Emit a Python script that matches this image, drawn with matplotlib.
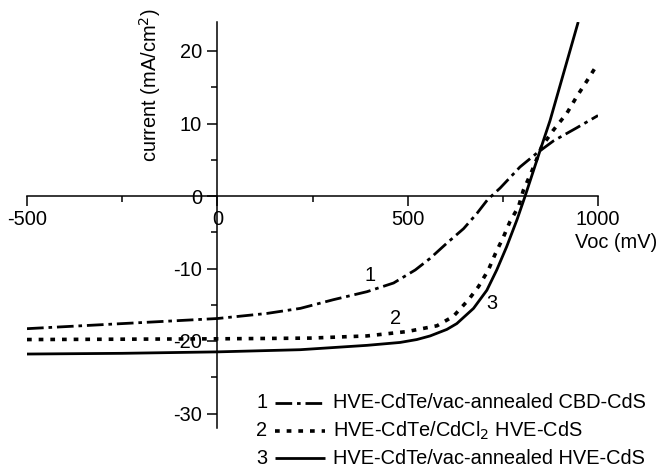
import matplotlib
matplotlib.use("Agg")
import matplotlib.pyplot as plt
from matplotlib.lines import Line2D
from matplotlib.ticker import MultipleLocator

plt.rcParams['font.family'] = ['Liberation Sans', 'DejaVu Sans']
plt.rcParams['lines.scale_dashes'] = False

# ---- data (voltage in mV, current density in mA/cm^2) ----
v1 = [-500, -250, 0, 130, 218, 305, 393, 463, 520, 559, 603, 647, 682, 710, 743, 795, 839, 883, 944, 1000]
j1 = [-18.3, -17.6, -16.9, -16.2, -15.5, -14.3, -13.2, -12.0, -10.2, -8.6, -6.5, -4.5, -2.4, -0.5, 1.1, 4.0, 5.9, 7.6, 9.4, 11.1]

v2 = [-500, 0, 244, 393, 498, 577, 620, 660, 686, 712, 730, 752, 769, 791, 804, 826, 852, 883, 918, 944, 970, 1000]
j2 = [-19.8, -19.7, -19.6, -19.3, -18.7, -17.9, -16.6, -14.3, -12.5, -10.2, -8.0, -5.6, -3.5, -1.5, 0.8, 3.4, 6.8, 9.1, 11.4, 13.7, 15.8, 18.3]

v3 = [-505, -250, 0, 218, 393, 480, 524, 559, 603, 629, 673, 708, 734, 760, 787, 808, 848, 874, 948]
j3 = [-21.8, -21.7, -21.5, -21.2, -20.6, -20.2, -19.8, -19.3, -18.4, -17.6, -15.5, -13.0, -10.2, -7.0, -3.3, -0.1, 6.3, 10.4, 24.0]

labels = ["HVE-CdTe/vac-annealed CBD-CdS",
          "HVE-CdTe/CdCl$_2$ HVE-CdS",
          "HVE-CdTe/vac-annealed HVE-CdS"]
numbers = ["1", "2", "3"]
curve_label_pos = [(402, -10.9), (467, -16.9), (722, -14.8)]

xticks = [-500, 0, 500, 1000]
yticks = [-30, -20, -10, 0, 10, 20]

FS = 14.4

# ---- styles ----
styles = [
    dict(color='black', lw=2.0, dashes=(12, 3.5, 2.6, 3.5)),
    dict(color='black', lw=2.6, dashes=(3.4, 5.0)),
    dict(color='black', lw=2.0, linestyle='-'),
]

fig = plt.figure(figsize=(6.58, 4.71), dpi=100)
ax = fig.add_axes([27/658, 1-428/471, (598-27)/658, 406/471])

for v, j, st in zip([v1, v2, v3], [j1, j2, j3], styles):
    ax.plot(v, j, solid_capstyle='butt', dash_capstyle='butt',
            solid_joinstyle='round', **st)

ax.set_xlim(-500, 1000)
ax.set_ylim(-32, 24)

for s in ['top', 'right']:
    ax.spines[s].set_visible(False)
ax.spines['left'].set_position(('data', 0))
ax.spines['bottom'].set_position(('data', 0))
for s in ['left', 'bottom']:
    ax.spines[s].set_linewidth(1.1)

ax.set_xticks(xticks)
ax.set_yticks(yticks)
ax.xaxis.set_minor_locator(MultipleLocator(250))
ax.yaxis.set_minor_locator(MultipleLocator(5))
ax.tick_params(axis='both', which='major', direction='out', length=7, width=1.1,
               labelsize=FS, pad=3)
ax.tick_params(axis='both', which='minor', direction='out', length=4, width=1.1)
ax.tick_params(axis='y', which='major', pad=4)
ax.set_xticklabels([str(t) for t in xticks])
ax.set_yticklabels([str(t) for t in yticks])

# axis titles
fig.text(150/658, 1-85/471, "current (mA/cm$^2$)", rotation=90, ha='center', va='center',
         fontsize=FS)
fig.text(657/658, 1-243/471, "Voc (mV)", ha='right', va='center', fontsize=FS)

# curve labels
for n, (x, y) in zip(numbers, curve_label_pos):
    ax.text(x, y, n, fontsize=FS, ha='center', va='center')

# legend (manual)
rows_y = [403, 431, 458]
for n, lab, st, ry in zip(numbers, labels, styles, rows_y):
    yf = 1 - ry/471
    fig.text(262/658, yf, n, ha='center', va='center', fontsize=FS)
    fig.add_artist(Line2D([275/658, 325/658], [yf, yf], transform=fig.transFigure,
                          solid_capstyle='butt', dash_capstyle='butt', **st))
    fig.text(333/658, yf, lab, ha='left', va='center', fontsize=FS)

fig.savefig("out.png", dpi=100)
